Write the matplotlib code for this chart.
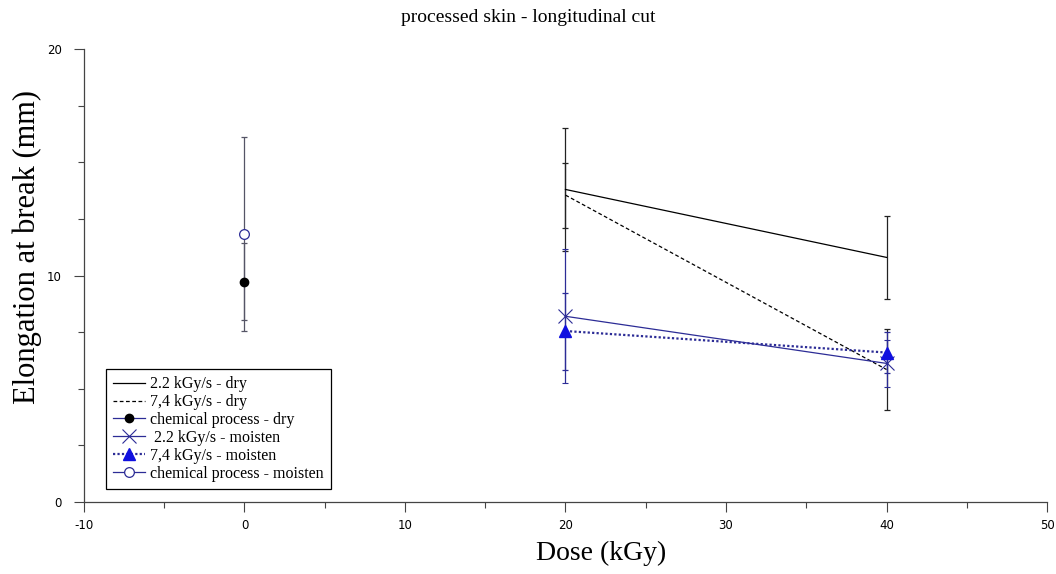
import matplotlib
matplotlib.use("Agg")
import matplotlib.pyplot as plt
from matplotlib.lines import Line2D

# dose (kGy)
dose_irr = [20, 40]
dose_chem = [0]

# elongation at break (mm) and error half-widths
dry_22 = [13.8, 10.8]
dry_22_err = [2.73, 1.82]
dry_74 = [13.55, 5.85]
dry_74_err = [1.43, 1.8]
chem_dry = [9.72]
chem_dry_err = [1.7]
moist_22 = [8.2, 6.12]
moist_22_err = [2.95, 1.03]
moist_74 = [7.55, 6.6]
moist_74_err = [1.7, 0.9]
chem_moist = [11.85]
chem_moist_err = [4.28]

labels = ["2.2 kGy/s - dry", "7,4 kGy/s - dry", "chemical process - dry",
          " 2.2 kGy/s - moisten", "7,4 kGy/s - moisten",
          "chemical process - moisten"]

NAVY = "#2c2c96"
BLUE = "#1010e0"

plt.rcParams["font.family"] = ["Liberation Serif", "DejaVu Serif"]
plt.rcParams["axes.unicode_minus"] = False

fig = plt.figure(figsize=(10.56, 5.74), dpi=100)
ax = fig.add_axes([0.0795, 0.1254, 0.912, 0.7892])

ekw = dict(capsize=2.5, elinewidth=0.9, capthick=0.9)

# style of each series: line, marker
styles = [
    dict(color="black", lw=0.9, ls="-"),
    dict(color="black", lw=0.9, ls=(0, (3, 2))),
    dict(color=NAVY, lw=0.9, marker="o", ms=6, mfc="black", mec="black"),
    dict(color=NAVY, lw=0.9, marker="x", ms=10, mew=0.8, mec=NAVY),
    dict(color=NAVY, lw=1.6, ls=(0, (1, 1)), marker="^", ms=9, mfc=BLUE, mec=BLUE),
    dict(color=NAVY, lw=0.9, marker="o", ms=7, mfc="white", mec=NAVY, mew=0.9),
]

ax.errorbar(dose_irr, dry_22, yerr=dry_22_err, ecolor="#222222", **styles[0], **ekw)
ax.errorbar(dose_irr, dry_74, yerr=dry_74_err, ecolor="#222222", **styles[1], **ekw)
ax.errorbar(dose_chem, chem_dry, yerr=chem_dry_err, ecolor="#555566", **styles[2], **ekw)
ax.errorbar(dose_irr, moist_22, yerr=moist_22_err, ecolor=NAVY, **styles[3], **ekw)
ax.errorbar(dose_irr, moist_74, yerr=moist_74_err, ecolor=NAVY, **styles[4], **ekw)
ax.errorbar(dose_chem, chem_moist, yerr=chem_moist_err, ecolor="#555566", **styles[5], **ekw)

ax.set_xlim(-10, 50)
ax.set_ylim(0, 20)
ax.set_xticks(range(-10, 51, 10))
ax.set_xticks(range(-5, 50, 10), minor=True)
ax.set_yticks([0, 10, 20])
ax.set_yticks([2.5, 5, 7.5, 12.5, 15, 17.5], minor=True)

for s in ["top", "right"]:
    ax.spines[s].set_visible(False)
for s in ["left", "bottom"]:
    ax.spines[s].set_color("#444444")
    ax.spines[s].set_linewidth(0.9)

ax.tick_params(which="major", length=7, width=0.8, color="#444444")
ax.tick_params(which="minor", length=4, width=0.8, color="#444444")
for lab in ax.get_xticklabels() + ax.get_yticklabels():
    lab.set_family("DejaVu Sans")
    lab.set_fontsize(8.5)
ax.tick_params(axis="y", pad=9)
ax.tick_params(axis="x", pad=5)

fig.suptitle("processed skin - longitudinal cut", fontsize=14, x=0.5, y=0.985)
ax.set_xlabel("Dose (kGy)", fontsize=20)
ax.set_ylabel("Elongation at break (mm)", fontsize=22)
ax.xaxis.set_label_coords(0.537, -0.085)
ax.yaxis.set_label_coords(-0.044, 0.563)

handles = [Line2D([], [], **st) for st in styles]
leg = ax.legend(handles, labels, loc="lower left",
                bbox_to_anchor=(0.0228, 0.0287),
                borderaxespad=0, fontsize=11.5, frameon=True, fancybox=False,
                handlelength=2.0, handletextpad=0.3, labelspacing=0.12,
                borderpad=0.45, edgecolor="black", framealpha=1)
leg.get_frame().set_linewidth(0.9)

fig.savefig("out.png", dpi=100)
